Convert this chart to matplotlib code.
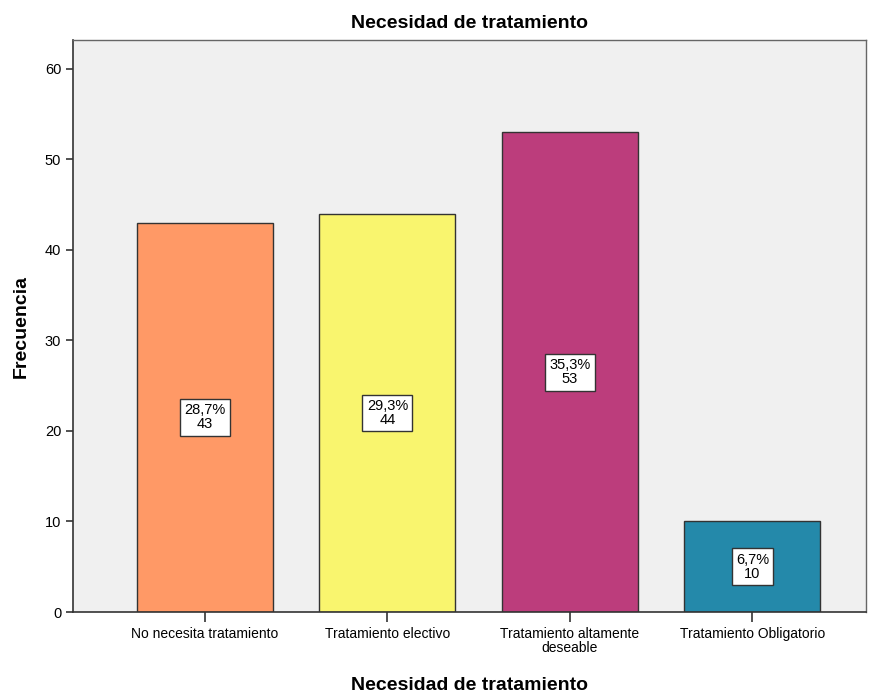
import matplotlib
matplotlib.use("Agg")
import matplotlib.pyplot as plt

categories = ["No necesita tratamiento", "Tratamiento electivo",
              "Tratamiento altamente\ndeseable", "Tratamiento Obligatorio"]
counts = [43, 44, 53, 10]
percents = ["28,7%", "29,3%", "35,3%", "6,7%"]
colors = ["#FF9966", "#F9F56E", "#BC3D7C", "#2489AA"]

plt.rcParams['font.family'] = ['Liberation Sans', 'DejaVu Sans']

fig = plt.figure(figsize=(8.74, 6.95), dpi=100)
ax = fig.add_axes([73/874, 1-612/695, (866-73)/874, (612-40)/695])
ax.set_facecolor("#F0F0F0")

x = list(range(len(categories)))
ax.bar(x, counts, width=0.745, color=colors, edgecolor="#333333", linewidth=1.0, zorder=2)
for xi, c, p in zip(x, counts, percents):
    ax.text(xi, c/2, f"{p}\n{c}", ha="center", va="center", fontsize=10.5,
            linespacing=1.0,
            bbox=dict(boxstyle="square,pad=0.3", facecolor="white", edgecolor="#333333", linewidth=1.0),
            zorder=3)

ax.set_xlim(-0.723, 3.622)
ax.set_ylim(0, 63.2)
ax.set_yticks([0, 10, 20, 30, 40, 50, 60])
ax.set_xticks(x)
ax.set_xticklabels(categories, fontsize=10, linespacing=1.0)
ax.tick_params(axis='y', labelsize=10.5, length=5, width=1.2, color="#333333")
ax.tick_params(axis='x', length=7, width=1.2, color="#333333")
for s in ["left", "bottom"]:
    ax.spines[s].set_color("#333333")
    ax.spines[s].set_linewidth(1.2)
for s in ["top", "right"]:
    ax.spines[s].set_color("#666666")
    ax.spines[s].set_linewidth(1.0)

ax.set_title("Necesidad de tratamiento", fontsize=14, fontweight="bold", pad=9)
ax.set_xlabel("Necesidad de tratamiento", fontsize=14, fontweight="bold", labelpad=16)
ax.set_ylabel("Frecuencia", fontsize=14, fontweight="bold", labelpad=11)

fig.savefig("out.png", dpi=100)
